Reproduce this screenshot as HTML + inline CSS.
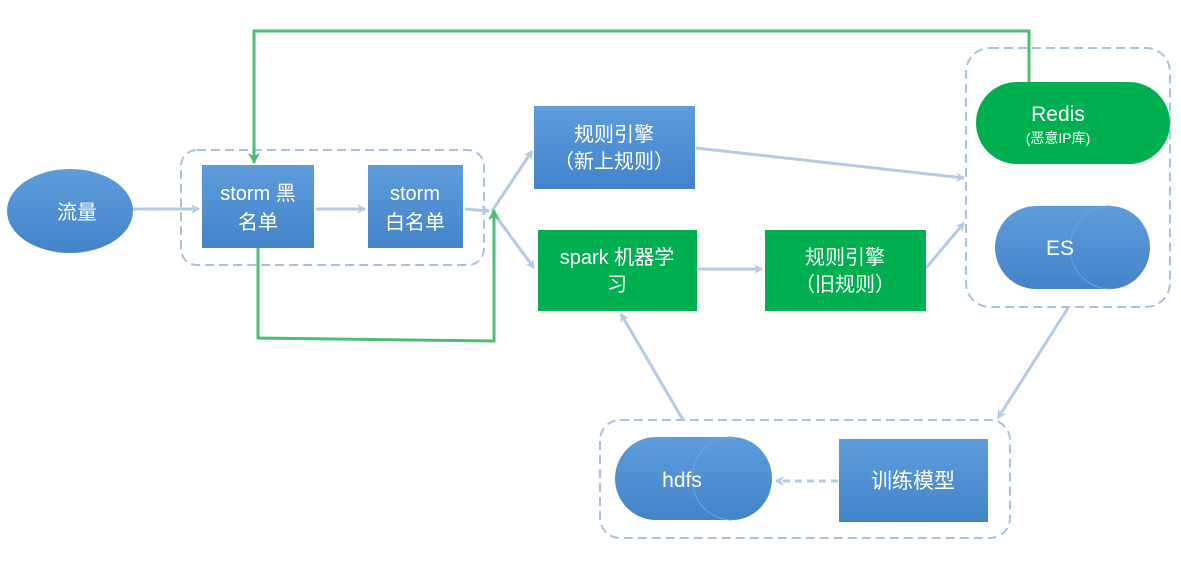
<!DOCTYPE html>
<html><head><meta charset="utf-8"><style>
body{margin:0;background:#fff}
svg text{font-family:"Liberation Sans","Noto Sans CJK SC",sans-serif;fill:#fff}
</style></head><body>
<svg width="1181" height="569" viewBox="0 0 1181 569" xmlns="http://www.w3.org/2000/svg">
<defs>
<linearGradient id="bg" x1="0" y1="0" x2="0" y2="1"><stop offset="0" stop-color="#5e9ddb"/><stop offset="1" stop-color="#4383c9"/></linearGradient>
<marker id="ab" markerWidth="10" markerHeight="10" refX="8" refY="5" orient="auto" markerUnits="userSpaceOnUse"><path d="M0,0 L9,5 L0,10 L3,5z" fill="#b4cbe5"/></marker>
<marker id="ag" markerWidth="12" markerHeight="12" refX="10" refY="6" orient="auto" markerUnits="userSpaceOnUse"><path d="M0,0 L11,6 L0,12 L3,6z" fill="#4dbd74"/></marker>
</defs>
<g fill="none" stroke="#a9c2df" stroke-width="2" stroke-dasharray="9,5">
<rect x="181" y="150" width="303" height="115" rx="16"/>
<rect x="966" y="48" width="204" height="259" rx="24"/>
<rect x="600" y="420" width="410" height="118" rx="20"/>
</g>
<g stroke="#b4cbe5" stroke-width="3" fill="none">
<line x1="131" y1="209" x2="199" y2="209" marker-end="url(#ab)"/>
<line x1="316" y1="209" x2="365" y2="209" marker-end="url(#ab)"/>
<line x1="465" y1="209" x2="489" y2="211" marker-end="url(#ab)"/>
<line x1="492" y1="211" x2="532" y2="151" marker-end="url(#ab)"/>
<line x1="492" y1="211" x2="534" y2="268" marker-end="url(#ab)"/>
<line x1="696" y1="148" x2="964" y2="178" marker-end="url(#ab)"/>
<line x1="697" y1="269" x2="762" y2="269" marker-end="url(#ab)"/>
<line x1="926" y1="268" x2="964" y2="223" marker-end="url(#ab)"/>
<line x1="1068" y1="308" x2="998" y2="418" marker-end="url(#ab)"/>
<line x1="683" y1="420" x2="621" y2="314" marker-end="url(#ab)"/>
<line x1="838" y1="481" x2="776" y2="481" stroke-dasharray="7,5" marker-end="url(#ab)"/>
</g>
<g stroke="#4dbd74" stroke-width="3" fill="none">
<polyline points="1029,82 1029,31 254,31 254,163" marker-end="url(#ag)"/>
<polyline points="258,248 258,338 494,341 494,210" marker-end="url(#ag)"/>
</g>
<ellipse cx="70" cy="211" rx="63" ry="42" fill="url(#bg)"/>
<text x="77" y="219" font-size="20" text-anchor="middle">流量</text>
<rect x="202" y="165" width="112" height="83" fill="url(#bg)"/>
<text x="258" y="200" font-size="20" text-anchor="middle">storm 黑</text>
<text x="258" y="229" font-size="20" text-anchor="middle">名单</text>
<rect x="368" y="165" width="95" height="83" fill="url(#bg)"/>
<text x="415" y="200" font-size="20" text-anchor="middle">storm</text>
<text x="415" y="229" font-size="20" text-anchor="middle">白名单</text>
<rect x="534" y="106" width="161" height="83" fill="url(#bg)"/>
<text x="614" y="141" font-size="20" text-anchor="middle">规则引擎</text>
<text x="614" y="168" font-size="20" text-anchor="middle">（新上规则）</text>
<rect x="538" y="230" width="159" height="81" fill="#00b050"/>
<text x="617" y="264" font-size="20" text-anchor="middle">spark 机器学</text>
<text x="617" y="291" font-size="20" text-anchor="middle">习</text>
<rect x="765" y="230" width="161" height="81" fill="#00b050"/>
<text x="845" y="264" font-size="20" text-anchor="middle">规则引擎</text>
<text x="845" y="291" font-size="20" text-anchor="middle">（旧规则）</text>
<rect x="976" y="82" width="194" height="82" rx="41" fill="#00b050"/>
<text x="1058" y="121" font-size="21" text-anchor="middle">Redis</text>
<text x="1058" y="143" font-size="14" text-anchor="middle">(恶意IP库)</text>
<g>
<path d="M1036,206 H1110 A40,41.5 0 0 1 1110,289 H1036 A41,41.5 0 0 1 1036,206z" fill="url(#bg)"/>
<path d="M1110,206 A40,41.5 0 0 0 1110,289" fill="none" stroke="#6aa5de" stroke-width="1"/>
<text x="1060" y="255" font-size="21" text-anchor="middle">ES</text>
</g>
<g>
<path d="M656,437 H732 A40,41.5 0 0 1 732,520 H656 A41,41.5 0 0 1 656,437z" fill="url(#bg)"/>
<path d="M732,437 A40,41.5 0 0 0 732,520" fill="none" stroke="#6aa5de" stroke-width="1"/>
<text x="682" y="487" font-size="21" text-anchor="middle">hdfs</text>
</g>
<rect x="839" y="439" width="149" height="83" fill="url(#bg)"/>
<text x="913" y="488" font-size="21" text-anchor="middle">训练模型</text>
</svg>
</body></html>
